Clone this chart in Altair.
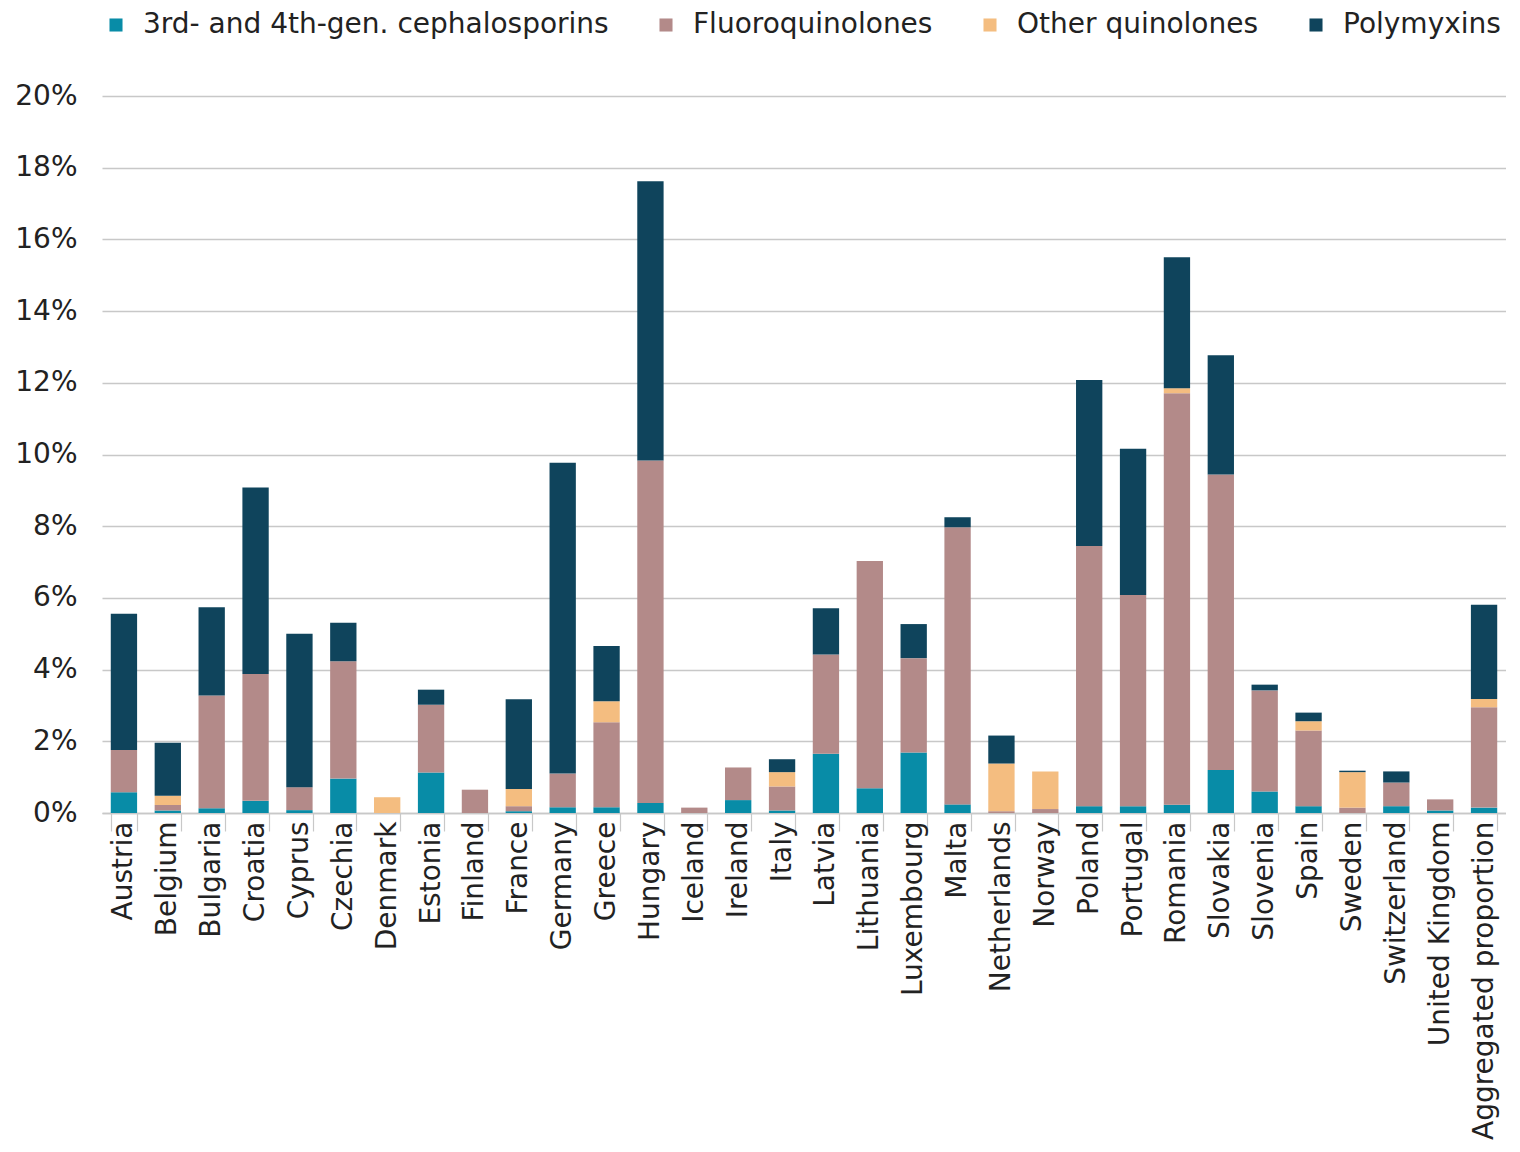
import altair as alt
import pandas as pd

countries = ["Austria", "Belgium", "Bulgaria", "Croatia", "Cyprus", "Czechia", "Denmark",
             "Estonia", "Finland", "France", "Germany", "Greece", "Hungary", "Iceland",
             "Ireland", "Italy", "Latvia", "Lithuania", "Luxembourg", "Malta", "Netherlands",
             "Norway", "Poland", "Portugal", "Romania", "Slovakia", "Slovenia", "Spain",
             "Sweden", "Switzerland", "United Kingdom", "Aggregated proportion"]

ceph = [0.58, 0.07, 0.13, 0.34, 0.08, 0.96, 0.0, 1.13, 0.0, 0.05, 0.16, 0.16, 0.28, 0.0,
        0.36, 0.07, 1.65, 0.69, 1.69, 0.24, 0.0, 0.0, 0.19, 0.19, 0.23, 1.20, 0.60, 0.19,
        0.0, 0.19, 0.07, 0.15]
fq = [1.18, 0.15, 3.15, 3.54, 0.64, 3.27, 0.0, 1.89, 0.65, 0.14, 0.94, 2.37, 9.55, 0.15,
      0.91, 0.67, 2.77, 6.34, 2.63, 7.73, 0.05, 0.11, 7.26, 5.89, 11.48, 8.24, 2.82, 2.11,
      0.15, 0.66, 0.31, 2.80]
other = [0.0, 0.26, 0.0, 0.0, 0.0, 0.0, 0.44, 0.0, 0.0, 0.48, 0.0, 0.59, 0.0, 0.0,
         0.0, 0.40, 0.0, 0.0, 0.0, 0.0, 1.33, 1.05, 0.0, 0.0, 0.14, 0.0, 0.0, 0.26,
         0.99, 0.0, 0.0, 0.23]
poly = [3.80, 1.48, 2.46, 5.20, 4.28, 1.08, 0.0, 0.42, 0.0, 2.50, 8.67, 1.54, 7.79, 0.0,
        0.0, 0.36, 1.29, 0.0, 0.95, 0.28, 0.78, 0.0, 4.63, 4.08, 3.65, 3.33, 0.16, 0.24,
        0.04, 0.31, 0.0, 2.63]

series = ["3rd- and 4th-gen. cephalosporins", "Fluoroquinolones", "Other quinolones", "Polymyxins"]
colors = ["#088ca7", "#b38a89", "#f4bd80", "#0f445c"]
y_ticks = [0, 2, 4, 6, 8, 10, 12, 14, 16, 18, 20]

rows = []
for i, c in enumerate(countries):
    for k, (s, vals) in enumerate(zip(series, [ceph, fq, other, poly])):
        rows.append({"country": c, "series": s, "value": vals[i], "order": k})
df = pd.DataFrame(rows)

FONT = "DejaVu Sans"

chart = alt.Chart(df).mark_bar().encode(
    x=alt.X("country:N", sort=countries, title=None,
            scale=alt.Scale(paddingInner=0.4, paddingOuter=0.2),
            axis=alt.Axis(labelAngle=-90, labelFontSize=28, labelFont=FONT, labelColor="#222222",
                          tickBand="extent", tickSize=18, tickColor="#c8c8c8", tickWidth=1.2,
                          domainColor="#c8c8c8", domainWidth=1.5, labelPadding=-10, grid=False,
                          labelAlign="right", labelBaseline="middle", labelLimit=0)),
    y=alt.Y("value:Q", stack="zero", title=None, scale=alt.Scale(domain=[0, 20], nice=False),
            axis=alt.Axis(values=y_ticks, labelExpr="datum.value + '%'", labelFontSize=28,
                          labelFont=FONT, labelColor="#222222", ticks=False, tickSize=0,
                          domain=False, labelPadding=25, gridColor="#c8c8c8", gridWidth=1.5)),
    color=alt.Color("series:N", sort=series, scale=alt.Scale(domain=series, range=colors),
                    legend=alt.Legend(title=None, orient="top", direction="horizontal",
                                      labelFontSize=28, labelFont=FONT, labelColor="#222222",
                                      labelLimit=0,
                                      symbolType="square", symbolSize=170, symbolStrokeWidth=0,
                                      columnPadding=43, labelOffset=13, offset=57)),
    order=alt.Order("order:Q", sort="ascending"),
).properties(
    width=1404, height=717,
    padding={"left": 6, "top": 3, "right": 0, "bottom": 0},
).configure(background="white").configure_view(stroke=None, strokeWidth=0)

chart.save("out.html", embed_options={"renderer": "svg", "actions": False})
